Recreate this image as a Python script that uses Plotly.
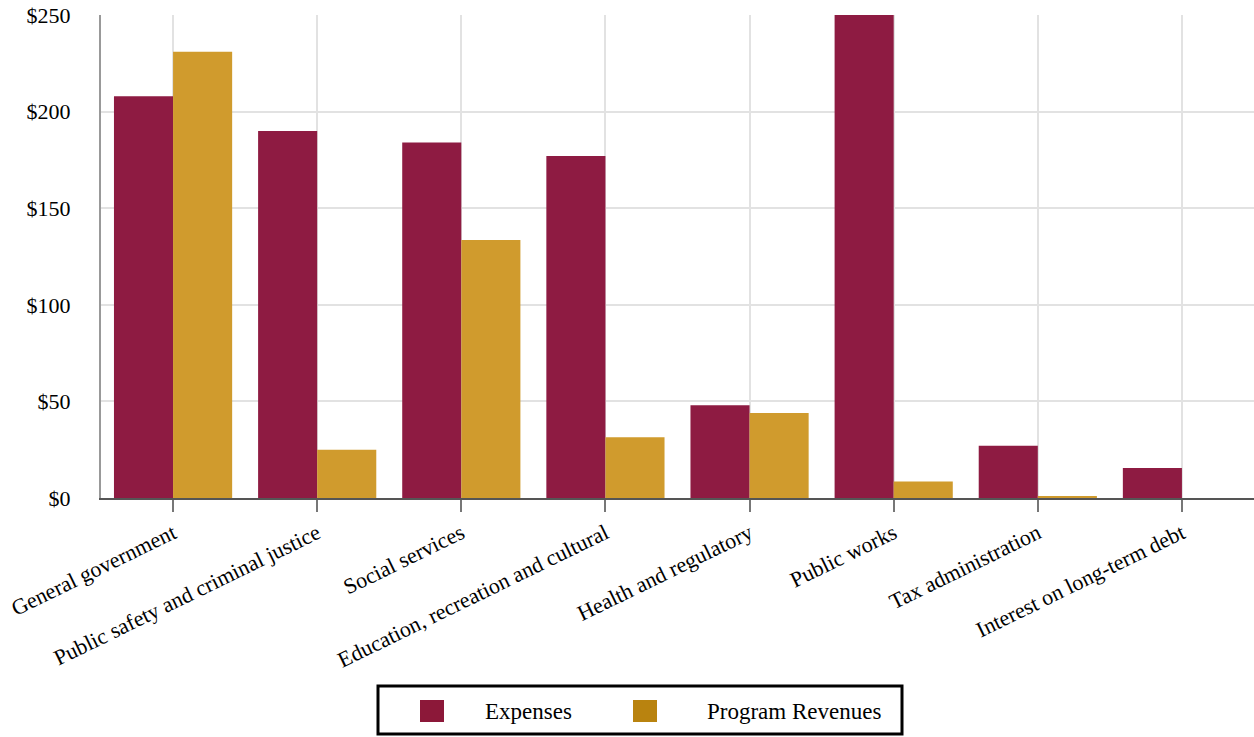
import plotly.graph_objects as go

categories = [
    "General government",
    "Public safety and criminal justice",
    "Social services",
    "Education, recreation and cultural",
    "Health and regulatory",
    "Public works",
    "Tax administration",
    "Interest on long-term debt",
]
expenses = [208, 190, 184, 177, 48, 250, 27, 15.5]
program_revenues = [231, 25, 133.5, 31.5, 44, 8.5, 1, 0]
y_tickvals = [0, 50, 100, 150, 200, 250]
y_ticktext = ["$0", "$50", "$100", "$150", "$200", "$250"]
series_names = ["Expenses", "Program Revenues"]
bar_colors = ["#8E1B42", "#D09B2D"]
legend_colors = ["#8C1839", "#B9830F"]

FONT = "Liberation Serif, Times New Roman, serif"
W, H = 1254, 737
ML, MR, MT, MB = 101, 0, 15, 239
PW, PH = W - ML - MR, H - MT - MB


def px(x):
    return (x - ML) / PW


def py(y):
    return (H - MB - y) / PH


fig = go.Figure()
fig.add_trace(go.Bar(name=series_names[0], x=categories, y=expenses,
                     marker=dict(color=bar_colors[0], line=dict(width=0))))
fig.add_trace(go.Bar(name=series_names[1], x=categories, y=program_revenues,
                     marker=dict(color=bar_colors[1], line=dict(width=0))))

shapes = [dict(type="rect", xref="paper", yref="paper",
               x0=px(378), x1=px(902), y0=py(734), y1=py(686),
               line=dict(color="#000", width=3), fillcolor="white", layer="above")]
annotations = []
sym_x = [420, 633]
txt_x = [483, 705]
for i in range(2):
    shapes.append(dict(type="rect", xref="paper", yref="paper",
                       x0=px(sym_x[i]), x1=px(sym_x[i] + 24), y0=py(722), y1=py(700),
                       line=dict(width=0), fillcolor=legend_colors[i], layer="above"))
    annotations.append(dict(xref="paper", yref="paper", x=px(txt_x[i]), y=py(712),
                            xanchor="left", yanchor="middle", showarrow=False,
                            text=series_names[i],
                            font=dict(family=FONT, size=23, color="#000")))

fig.update_layout(
    width=W, height=H,
    margin=dict(l=ML, r=MR, t=MT, b=MB),
    paper_bgcolor="white", plot_bgcolor="white",
    barmode="group", bargap=0.18, bargroupgap=0,
    font=dict(family=FONT, size=22, color="#000"),
    showlegend=False,
    shapes=shapes, annotations=annotations,
)
fig.update_xaxes(
    type="category", tickangle=-26,
    showgrid=True, gridcolor="#e2e2e2", gridwidth=2,
    showline=True, linecolor="#555", linewidth=2,
    ticks="outside", ticklen=12, tickwidth=2, tickcolor="#777",
    tickfont=dict(family=FONT, size=22, color="#000"),
)
fig.update_yaxes(
    range=[0, 250], tickvals=y_tickvals, ticktext=y_ticktext,
    showgrid=True, gridcolor="#e2e2e2", gridwidth=2,
    showline=True, linecolor="#999", linewidth=2,
    ticks="", ticklabelstandoff=24, zeroline=False,
    tickfont=dict(family=FONT, size=22, color="#000"),
)

fig.write_html("out.html")
